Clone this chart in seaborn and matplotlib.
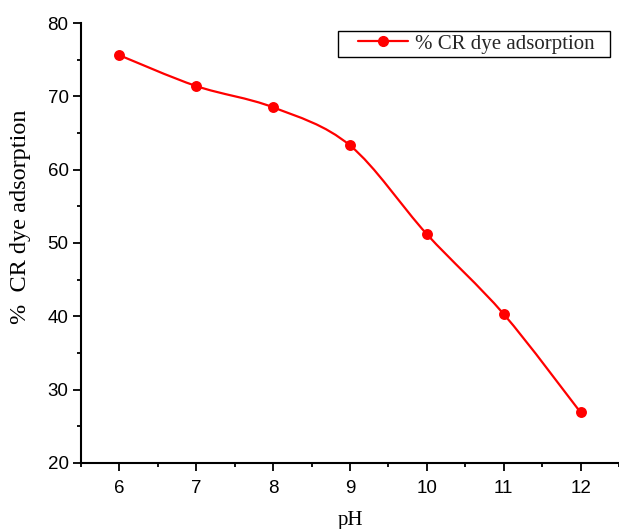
import numpy as np
import pandas as pd
import matplotlib
matplotlib.use("Agg")
import matplotlib.pyplot as plt
from matplotlib.path import Path
from matplotlib.patches import PathPatch, Rectangle
from matplotlib.lines import Line2D
from matplotlib.ticker import MultipleLocator
import seaborn as sns

ph = [6, 7, 8, 9, 10, 11, 12]
adsorption = [75.6, 71.4, 68.5, 63.3, 51.2, 40.3, 26.9]
series_label = "% CR dye adsorption"

sns.set_style("ticks")
plt.rcParams["font.family"] = ["Liberation Sans", "DejaVu Sans"]

fig = plt.figure(figsize=(6.19, 5.29), dpi=100)
ax = fig.add_axes([0.1309, 0.1248, 0.8691, 0.8317])

df = pd.DataFrame({"pH": ph, "ads": adsorption})
red = "#ff0000"

# smooth connecting line (Bezier path through data points, data coordinates)
x = np.array(ph, float)
y = np.array(adsorption, float)
verts = [(x[0], y[0])]
codes = [Path.MOVETO]
n = len(x)
for i in range(n - 1):
    p0 = (x[i - 1], y[i - 1]) if i > 0 else (x[i], y[i])
    p1 = (x[i], y[i])
    p2 = (x[i + 1], y[i + 1])
    p3 = (x[i + 2], y[i + 2]) if i + 2 < n else (x[i + 1], y[i + 1])
    c1 = (p1[0] + (p2[0] - p0[0]) / 6, p1[1] + (p2[1] - p0[1]) / 6)
    c2 = (p2[0] - (p3[0] - p1[0]) / 6, p2[1] - (p3[1] - p1[1]) / 6)
    verts += [c1, c2, p2]
    codes += [Path.CURVE4] * 3
ax.add_patch(PathPatch(Path(verts, codes), facecolor="none", edgecolor=red, lw=1.6, zorder=2))

sns.scatterplot(data=df, x="pH", y="ads", ax=ax, color=red, s=62, edgecolor=red,
                linewidth=0, zorder=3, legend=False)

ax.set_xlim(5.5, 12.5)
ax.set_ylim(20, 80)
ax.xaxis.set_major_locator(MultipleLocator(1))
ax.xaxis.set_minor_locator(MultipleLocator(0.5))
ax.yaxis.set_major_locator(MultipleLocator(10))
ax.yaxis.set_minor_locator(MultipleLocator(5))
ax.tick_params(which="major", length=6, width=1.3, labelsize=13.5, direction="out",
               colors="black")
ax.tick_params(which="minor", length=3, width=1.3, direction="out", colors="black")
ax.tick_params(axis="x", which="major", pad=6)
ax.tick_params(axis="y", which="major", pad=3)
for s in ["top", "right"]:
    ax.spines[s].set_visible(False)
for s in ["left", "bottom"]:
    ax.spines[s].set_linewidth(1.5)
    ax.spines[s].set_color("black")

ax.set_xlabel("pH", family=["Liberation Serif"], fontsize=15, labelpad=10, color="black")
ax.set_ylabel("%  CR dye adsorption", family=["Liberation Serif"], fontsize=17.5,
              color="black")
ax.yaxis.set_label_coords(-0.093, 0.56)

# legend frame
ax.add_patch(Rectangle((0.478, 0.923), 0.505, 0.059, transform=ax.transAxes,
                       facecolor="white", edgecolor="black", lw=1.0, zorder=4,
                       clip_on=False))
handle = Line2D([], [], color=red, lw=1.6, marker="o", markersize=7)
leg = ax.legend([handle], [series_label], loc="center right", bbox_to_anchor=(0.955, 0.9525),
                borderaxespad=0, prop={"family": "Liberation Serif", "size": 15},
                frameon=False, handlelength=2.4, borderpad=0, handletextpad=0.34)
leg.set_zorder(5)

fig.savefig("out.png", dpi=100)
